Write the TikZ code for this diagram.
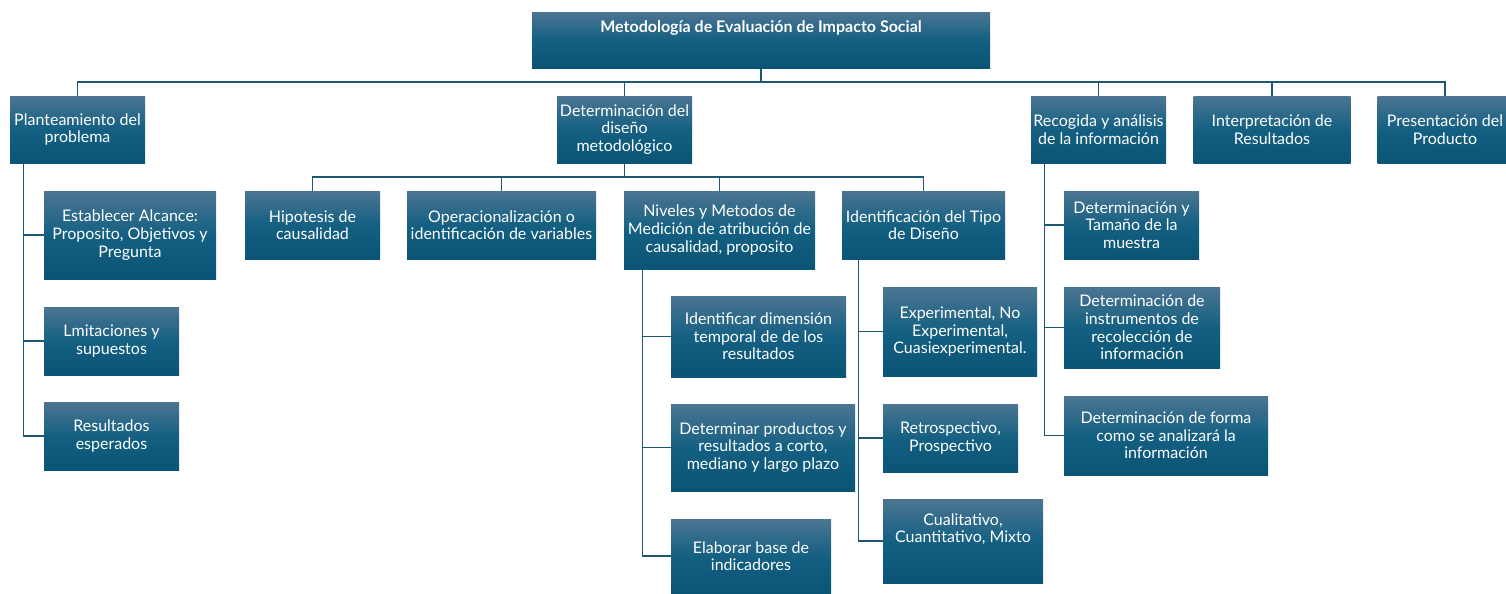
\documentclass[tikz,border=0pt]{standalone}
\usepackage{fontspec}
\setmainfont{Lato}

\definecolor{boxtop}{RGB}{76,117,146}
\definecolor{boxmid}{RGB}{20,96,130}
\definecolor{boxbot}{RGB}{10,84,117}
\definecolor{linkblue}{RGB}{30,86,118}

\tikzset{every picture/.style={line width=0.75pt}}
\tikzset{
  box/.style={top color=boxtop, bottom color=boxbot, middle color=boxmid,
    text=white, align=center, inner sep=1pt,
    font=\fontsize{12}{13.2}\selectfont},
  boxtext/.style={text=white, align=center, inner sep=1pt,
    font=\fontsize{12}{13.2}\selectfont},
  link/.style={draw=linkblue, line width=1.3pt},
}

\begin{document}
\begin{tikzpicture}[x=0.75pt,y=0.75pt,yscale=-1,xscale=1]
\useasboundingbox (0,0) rectangle (1506,593);

% Title
\node [box, minimum width=343.5pt, minimum height=42pt] (top) at (761,40) {};
\node [boxtext, font=\bfseries\fontsize{12}{13.2}\selectfont] (ttl) at (761,28) {Metodología de Evaluación de Impacto Social};

% First level
\node [box, minimum width=101.25pt, minimum height=50.25pt] (plant) at (77.5,129.5) {Planteamiento del\\problema};
\node [box, minimum width=101.25pt, minimum height=50.25pt] (diseno) at (624.5,129.5) {Determinación del\\diseño\\metodológico};
\node [box, minimum width=101.25pt, minimum height=50.25pt] (recog) at (1098.5,129.5) {Recogida y análisis\\de la información};
\node [box, minimum width=117.75pt, minimum height=50.25pt] (interp) at (1272,129.5) {Interpretación de\\Resultados};
\node [box, minimum width=101.25pt, minimum height=50.25pt] (present) at (1445,129.5) {Presentación del\\Producto};

% Under Planteamiento
\node [box, minimum width=129pt, minimum height=66pt] (alc) at (130,235) {Establecer Alcance:\\Proposito, Objetivos y\\Pregunta};
\node [box, minimum width=101.25pt, minimum height=51pt] (lim) at (111.5,341) {Lmitaciones y\\supuestos};
\node [box, minimum width=101.25pt, minimum height=51pt] (res) at (111.5,436) {Resultados\\esperados};

% Under Determinacion del diseno
\node [box, minimum width=101.25pt, minimum height=51pt] (hip) at (312.5,225) {Hipotesis de\\causalidad};
\node [box, minimum width=141.75pt, minimum height=51pt] (oper) at (501.5,225) {Operacionalización o\\identificación de variables};
\node [box, minimum width=143.25pt, minimum height=58.5pt] (niv) at (719.5,230) {Niveles y Metodos de\\Medición de atribución de\\causalidad, proposito};
\node [box, minimum width=122.25pt, minimum height=51pt] (ident) at (923.5,225) {Identificación del Tipo\\de Diseño};

% Under Niveles
\node [box, minimum width=131.25pt, minimum height=60.75pt] (dim) at (758.5,336.5) {Identificar dimensión\\temporal de de los\\resultados};
\node [box, minimum width=138pt, minimum height=65.25pt] (prod) at (763,447.5) {Determinar productos y\\resultados a corto,\\mediano y largo plazo};
\node [box, minimum width=120pt, minimum height=55.5pt] (base) at (751,556) {Elaborar base de\\indicadores};

% Under Identificacion del Tipo
\node [box, minimum width=115.5pt, minimum height=66.75pt] (exp) at (960,331.5) {Experimental, No\\Experimental,\\Cuasiexperimental.};
\node [box, minimum width=101.25pt, minimum height=51pt] (retro) at (950.5,438) {Retrospectivo,\\Prospectivo};
\node [box, minimum width=120pt, minimum height=63pt] (cual) at (963,541) {};
\node [boxtext] (cualtxt) at (963,529) {Cualitativo,\\Cuantitativo, Mixto};

% Under Recogida
\node [box, minimum width=101.25pt, minimum height=51pt] (tam) at (1131.5,225) {Determinación y\\Tamaño de la\\muestra};
\node [box, minimum width=117pt, minimum height=60.75pt] (instr) at (1142,327.5) {Determinación de\\instrumentos de\\recolección de\\información};
\node [box, minimum width=153pt, minimum height=59.25pt] (forma) at (1166,435.5) {Determinación de forma\\como se analizará la\\información};

% Connectors
\coordinate (bus) at (761,82);
\foreach \n in {plant,diseno,recog,interp,present}
  \draw [link] (top.south) -- (bus) -| (\n.north);

\coordinate (subbus) at (624.5,177);
\foreach \n in {hip,oper,niv,ident}
  \draw [link] (diseno.south) -- (subbus) -| (\n.north);

\foreach \n in {alc,lim,res}
  \draw [link] (plant.south west) ++(14,0) |- (\n.west);
\foreach \n in {dim,prod,base}
  \draw [link] (niv.south west) ++(19,0) |- (\n.west);
\foreach \n in {exp,retro,cual}
  \draw [link] (ident.south west) ++(17,0) |- (\n.west);
\foreach \n in {tam,instr,forma}
  \draw [link] (recog.south west) ++(14,0) |- (\n.west);

\end{tikzpicture}
\end{document}
